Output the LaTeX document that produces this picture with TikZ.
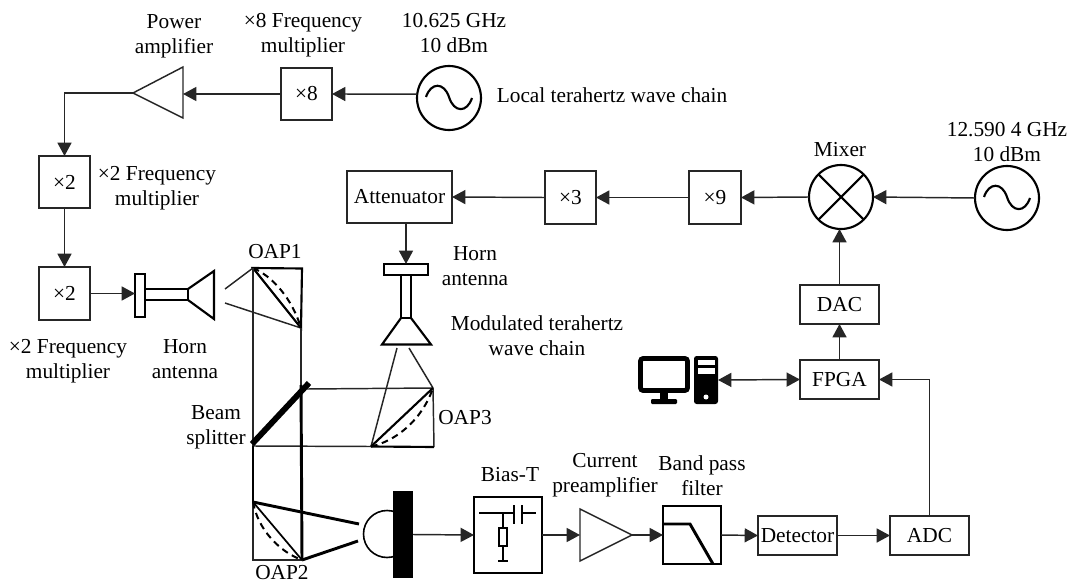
\documentclass[tikz,border=0pt]{standalone}
\usepackage{fontspec}
\setmainfont{Liberation Serif}
\usetikzlibrary{arrows.meta}
\tikzset{
  sz/.style 2 args={minimum width=#1*0.75pt,minimum height=#2*0.75pt},
  base/.style={line width=1.1pt,draw=black!85},
  box/.style={base,rectangle,inner sep=0pt,outer sep=0pt},
  osc/.style={circle,draw=black,line width=1.6pt,inner sep=0pt,outer sep=0pt,minimum size=64*0.75pt},
  lab/.style={inner sep=0pt,outer sep=0pt,align=center},
  wire/.style={line width=1.1pt,draw=black!85},
  ray/.style={line width=1.1pt,draw=black!85},
  arr/.style={wire,-{Triangle[length=10pt,width=10.5pt]}},
  darr/.style={wire,{Triangle[length=10pt,width=10.5pt]}-{Triangle[length=10pt,width=10.5pt]}},
  med/.style={line width=1.6pt,draw=black},
  heavy/.style={line width=2.2pt,draw=black},
  dash curve/.style={line width=1.5pt,dash pattern=on 5pt off 3.5pt,draw=black},
  sine/.style={line width=1.6pt,draw=black},
}
\begin{document}
\begin{tikzpicture}[x=0.75pt,y=-0.75pt,font=\fontsize{16}{18.75}\selectfont]
\useasboundingbox (0,0) rectangle (1067,581);

% --- local chain
\node[osc] (src1) at (449,98) {};
\draw[sine] (426,97) .. controls (431,82) and (444,82) .. (449,97) .. controls (454,113) and (467,113) .. (472,98);
\node[box,sz={51}{52}] (x8) at (306.5,94) {×8};
\coordinate (ampapex) at (133,93);
\coordinate (amptop) at (183,67);
\coordinate (ampbot) at (183,118);
\coordinate (ampbase) at (183,94);
\draw[base] (ampapex) -- (amptop) -- (ampbot) -- cycle;
\node[box,sz={51}{52}] (d1) at (64.5,182) {×2};
\node[box,sz={51}{53}] (d2) at (64.5,293.5) {×2};
\draw[arr] (src1.173) -- (x8.east);
\draw[arr] (x8.west) -- (ampbase);
\draw[arr] (ampapex) -| (d1.north);
\draw[arr] (d1.south) -- (d2.north);

% --- horn 1
\node[box,draw=black,line width=1.6pt,sz={10}{43}] (fl1) at (140,295.5) {};
\node[box,draw=black,line width=1.6pt,sz={43}{11}] (wg1) at (166.5,294.5) {};
\coordinate (c1a) at (188,289);
\coordinate (c1b) at (214,271);
\coordinate (c1c) at (214,319);
\coordinate (c1d) at (188,300);
\draw[med] (c1a) -- (c1b) -- (c1c) -- (c1d);
\draw[arr] (d2.east) -- (d2.east -| fl1.west);

% --- OAP1
\coordinate (o1a) at (253,268);
\coordinate (o1b) at (302,268.5);
\coordinate (o1c) at (301,328);
\draw[ray] (225,289) -- (o1a);
\draw[ray] (225,303) -- (o1c);
\draw[med] (o1a) -- (o1b) -- (o1c) -- cycle;
\draw[dash curve] (o1a) .. controls (272,276) and (292,298) .. (o1c);

% --- beam splitter, OAP3
\coordinate (bsa) at (252,444);
\coordinate (bsb) at (309,383);
\coordinate (o3a) at (371,446.5);
\coordinate (o3b) at (433,388);
\coordinate (o3c) at (434,447);
\coordinate (o2a) at (253,502);
\coordinate (o2b) at (302,560);
\coordinate (o2c) at (253,560);
\draw[ray] (o1a) -- (253,446);
\draw[ray] (o1c) -- (301,385);
\draw[ray] (307,389) -- (o3b);
\draw[ray] (o3b) -- (o3c);
\draw[ray] (253,446) -- (o3a);
\draw[med] (o3a) -- (o3c);
\draw[ray] (o3a) -- (397,348);
\draw[ray] (o3b) -- (409,348);
\draw[med] (o3a) -- (o3b);
\draw[dash curve] (o3a) .. controls (396,441) and (422,420) .. (o3b);
\draw[heavy] (253,446) -- (o2a);
\draw[heavy] (301,385) -- (o2b);
\draw[line width=4.4pt,draw=black] (bsa) -- (bsb);

% --- OAP2 and receiver
\node[circle,draw=black,line width=1.2pt,inner sep=0pt,outer sep=0pt,minimum size=47*0.75pt] (pc) at (387,534) {};
\node[rectangle,fill=black,inner sep=0pt,outer sep=0pt,sz={20}{87}] (pd) at (403,534.5) {};
\draw[ray] (o2a) -- (o2c) -- (o2b);
\draw[line width=1.3pt,draw=black] (o2a) -- (o2b);
\draw[dash curve] (o2a) .. controls (258,530) and (280,552) .. (o2b);
\draw[heavy] (o2a) -- (359,524);
\draw[heavy] (o2b) -- (358,541);

% --- Bias-T
\node[box,draw=black,line width=1.9pt,sz={68}{76}] (bt) at (508,535) {};
\draw[arr] (pd.east) -- (bt.west);
\coordinate (btj) at (503,513);
\draw[heavy] (479,513) -- (514,513) (514,505) -- (514,524);
\draw[heavy] (522,505) -- (522,524) (522,513) -- (536,513);
\draw[heavy] (btj) -- (503,528);
\draw[line width=1.5pt,draw=black] (499,528) rectangle (507,546);
\draw[heavy] (503,546) -- (503,561) (498,561) -- (508,561);

% --- amp
\coordinate (a2t) at (580,509);
\coordinate (a2b) at (580,561);
\coordinate (a2w) at (580,535);
\coordinate (a2e) at (632,535);
\draw[base] (a2t) -- (a2e) -- (a2b) -- cycle;
\draw[arr] (bt.east |- a2w) -- (a2w);

% --- BPF
\node[box,draw=black,line width=1.5pt,sz={58}{58}] (bpf) at (692,535) {};
\draw[heavy] (663,524) -- (690,524) -- (713,564);
\draw[arr] (a2e) -- (bpf.west);

\node[box,sz={79}{39}] (det) at (797.5,535.5) {Detector};
\node[box,sz={79}{39}] (adc) at (929.5,535.5) {ADC};
\node[box,sz={79}{39}] (fpga) at (839.5,379.5) {FPGA};
\node[box,sz={79}{39}] (dac) at (839.5,304.5) {DAC};
\draw[arr] (bpf.east) -- (det.west);
\draw[arr] (det.east) -- (adc.west);
\draw[arr] (adc.north) |- (fpga.east);
\draw[arr] (fpga.north) -- (dac.south);

% --- mixer and top chain
\node[osc] (mix) at (841,197) {};
\draw[med] (mix.45) -- (mix.225) (mix.135) -- (mix.315);
\node[osc] (src2) at (1007,198) {};
\draw[sine] (984,197) .. controls (989,182) and (1002,182) .. (1007,197) .. controls (1012,213) and (1025,213) .. (1030,198);
\node[box,sz={52}{53}] (x9) at (715,197.5) {×9};
\node[box,sz={51}{53}] (x3) at (570.5,197.5) {×3};
\node[box,sz={105}{52}] (att) at (399.5,197) {Attenuator};
\draw[arr] (dac.north) -- (mix.south -| dac.north);
\draw[arr] (src2.west) -- (mix.east);
\draw[arr] (mix.west) -- (x9.east);
\draw[arr] (x9.west) -- (x3.east);
\draw[arr] (x3.west) -- (att.east);

% --- horn 2
\node[box,draw=black,line width=1.6pt,sz={44}{11}] (fl2) at (406,269.5) {};
\node[box,draw=black,line width=1.6pt,sz={10}{43}] (wg2) at (406,296.5) {};
\coordinate (c2a) at (401,318);
\coordinate (c2b) at (382,344.5);
\coordinate (c2c) at (431,344.5);
\coordinate (c2d) at (411,318);
\draw[med] (c2a) -- (c2b) -- (c2c) -- (c2d);
\draw[arr] (att.south -| fl2.north) -- (fl2.north);

% --- computer
\node[rectangle,draw=black,line width=3.6pt,rounded corners=2pt,inner sep=0pt,outer sep=0pt,sz={47}{32}] (mon) at (664,374.5) {};
\fill[black] (660,392) rectangle (668,400);
\fill[black,rounded corners=0.8pt] (651,399) rectangle (677,404);
\node[rectangle,fill=black,rounded corners=2pt,inner sep=0pt,outer sep=0pt,sz={24}{48}] (pc2) at (706,380) {};
\fill[white] (697.5,359.5) rectangle (714.5,365);
\fill[white] (697.5,368) rectangle (714.5,373.5);
\fill[white] (706,397) circle[radius=2.5];
\draw[darr] (pc2.east) -- (fpga.west);

% --- labels
\node[lab] (t1) at (174,36) {Power\\amplifier};
\node[lab] (t2) at (303,35) {×8 Frequency\\multiplier};
\node[lab] (t3) at (454,33.5) {10.625 GHz\\10 dBm};
\node[lab] (t4) at (612,95) {Local terahertz wave chain};
\node[lab] (t5) at (157,188) {×2 Frequency\\multiplier};
\node[lab] (t6) at (68,361) {×2 Frequency\\multiplier};
\node[lab] (t7) at (185,359.5) {Horn\\antenna};
\node[lab] (t8) at (275,252) {OAP1};
\node[lab] (t9) at (475,266.5) {Horn\\antenna};
\node[lab] (t10) at (537,335.5) {Modulated terahertz\\wave chain};
\node[lab] (t11) at (216,427) {Beam\\splitter};
\node[lab] (t12) at (465,418) {OAP3};
\node[lab] (t13) at (282,573) {OAP2};
\node[lab] (t14) at (510,475) {Bias-T};
\node[lab] (t15) at (605,475.5) {Current\\preamplifier};
\node[lab] (t16) at (702,475.5) {Band pass\\filter};
\node[lab] (t17) at (840,150) {Mixer};
\node[lab] (t18) at (1007,142) {12.590 4 GHz\\10 dBm};
\end{tikzpicture}
\end{document}
